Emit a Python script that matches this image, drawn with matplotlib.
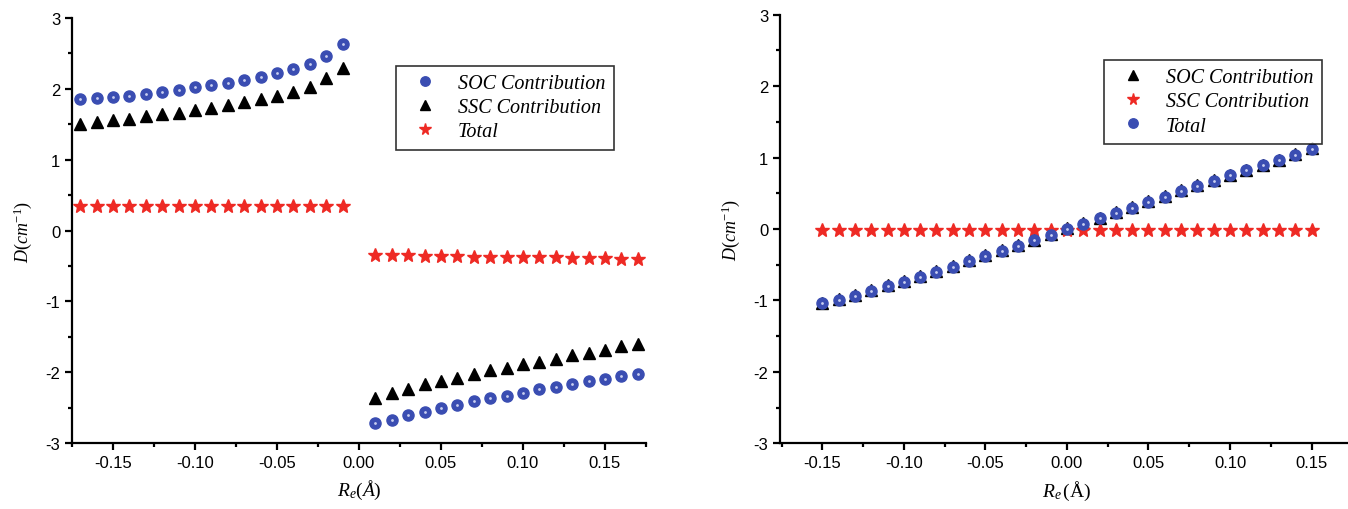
import matplotlib
matplotlib.use('Agg')
import matplotlib.pyplot as plt
from matplotlib.ticker import MultipleLocator
import numpy as np

# left panel: R_e scan, two branches
x_neg = [-0.17, -0.16, -0.15, -0.14, -0.13, -0.12, -0.11, -0.10, -0.09,
         -0.08, -0.07, -0.06, -0.05, -0.04, -0.03, -0.02, -0.01]
x_pos = [0.01, 0.02, 0.03, 0.04, 0.05, 0.06, 0.07, 0.08, 0.09,
         0.10, 0.11, 0.12, 0.13, 0.14, 0.15, 0.16, 0.17]
soc_neg = [1.85, 1.87, 1.88, 1.90, 1.93, 1.95, 1.98, 2.02, 2.05,
           2.08, 2.13, 2.17, 2.22, 2.28, 2.35, 2.46, 2.63]
ssc_neg = [1.50, 1.53, 1.56, 1.58, 1.61, 1.64, 1.66, 1.70, 1.73,
           1.77, 1.81, 1.85, 1.90, 1.96, 2.03, 2.15, 2.29]
tot_neg = [0.34] * 17
soc_pos = [-2.72, -2.67, -2.61, -2.56, -2.51, -2.46, -2.41, -2.37, -2.34,
           -2.29, -2.24, -2.21, -2.16, -2.13, -2.09, -2.06, -2.02]
ssc_pos = [-2.36, -2.30, -2.24, -2.17, -2.13, -2.08, -2.02, -1.97, -1.94,
           -1.89, -1.85, -1.81, -1.76, -1.73, -1.68, -1.63, -1.60]
tot_pos = [-0.34, -0.35, -0.35, -0.36, -0.36, -0.36, -0.37, -0.37, -0.37,
           -0.38, -0.38, -0.38, -0.39, -0.39, -0.39, -0.40, -0.40]

# right panel
x_r = [-0.15, -0.14, -0.13, -0.12, -0.11, -0.10, -0.09, -0.08, -0.07, -0.06,
       -0.05, -0.04, -0.03, -0.02, -0.01, 0.00, 0.01, 0.02, 0.03, 0.04,
       0.05, 0.06, 0.07, 0.08, 0.09, 0.10, 0.11, 0.12, 0.13, 0.14, 0.15]
tot_r = [-1.04, -0.99, -0.94, -0.87, -0.80, -0.74, -0.67, -0.60, -0.53, -0.45,
         -0.38, -0.31, -0.24, -0.16, -0.08, 0.00, 0.07, 0.15, 0.23, 0.30,
         0.38, 0.45, 0.53, 0.60, 0.67, 0.75, 0.82, 0.89, 0.96, 1.04, 1.12]
soc_r = [-1.03, -0.98, -0.93, -0.86, -0.79, -0.73, -0.66, -0.59, -0.52, -0.44,
         -0.37, -0.30, -0.23, -0.15, -0.07, 0.01, 0.08, 0.16, 0.24, 0.31,
         0.39, 0.46, 0.54, 0.61, 0.68, 0.76, 0.83, 0.90, 0.97, 1.05, 1.13]
ssc_r = [-0.01] * 31

BLUE = '#3a4db2'
RED = '#ee2a24'
serif = ['Liberation Serif', 'DejaVu Serif']
plt.rcParams['font.family'] = ['Liberation Sans', 'DejaVu Sans']
plt.rcParams['axes.unicode_minus'] = False
plt.rcParams['mathtext.fontset'] = 'custom'
plt.rcParams['mathtext.it'] = 'Liberation Serif:italic'
plt.rcParams['mathtext.rm'] = 'Liberation Serif'


def ball(ax, x, y, label=None):
    ax.plot(x, y, 'o', color=BLUE, ms=8, mec=BLUE, label=label, zorder=3)
    # little highlight to get the shaded-sphere look
    ax.plot(x, y, 'o', color='#c9cff0', ms=2, mec='none', zorder=4)


def style(ax, xlim, xlabel):
    ax.set_xlim(*xlim)
    ax.set_ylim(-3, 3)
    for s in ['top', 'right']:
        ax.spines[s].set_visible(False)
    for s in ['left', 'bottom']:
        ax.spines[s].set_linewidth(1.6)
    ax.xaxis.set_major_locator(MultipleLocator(0.05))
    ax.xaxis.set_minor_locator(MultipleLocator(0.025))
    ax.yaxis.set_major_locator(MultipleLocator(1))
    ax.yaxis.set_minor_locator(MultipleLocator(0.5))
    ax.tick_params(which='major', direction='out', length=5, width=1.6, labelsize=12)
    ax.tick_params(which='minor', direction='out', length=3, width=1.6)
    ax.xaxis.set_major_formatter(plt.FuncFormatter(lambda v, p: '%.2f' % v))
    ax.set_xlabel(xlabel, fontsize=14, labelpad=6)
    ax.set_ylabel(r'$D(cm^{-1})$', fontsize=13, labelpad=8)


fig = plt.figure(figsize=(13.48, 5.10), dpi=100)
ax1 = fig.add_axes([0.0534, 0.1294, 0.4258, 0.8333])
ax2 = fig.add_axes([0.5786, 0.1288, 0.4258, 0.8405])

ball(ax1, x_neg, soc_neg, 'SOC Contribution')
ax1.plot(x_neg, ssc_neg, '^', color='black', ms=9, label='SSC Contribution', zorder=3)
ax1.plot(x_neg, tot_neg, '*', color=RED, ms=10, mec=RED, label='Total', zorder=3)
ball(ax1, x_pos, soc_pos)
ax1.plot(x_pos, ssc_pos, '^', color='black', ms=9, zorder=3)
ax1.plot(x_pos, tot_pos, '*', color=RED, ms=10, mec=RED, zorder=3)
style(ax1, (-0.175, 0.175), r'$R_e(\AA)$')

ax2.plot(x_r, soc_r, '^', color='black', ms=9, label='SOC Contribution', zorder=2)
ax2.plot(x_r, ssc_r, '*', color=RED, ms=10, mec=RED, label='SSC Contribution', zorder=2)
ball(ax2, x_r, tot_r, 'Total')
style(ax2, (-0.176, 0.176), r'$R_e\,(\mathrm{\AA})$')

for ax, pos in [(ax1, (0.564, 0.887)), (ax2, (0.564, 0.894))]:
    leg = ax.legend(loc='upper left', bbox_to_anchor=pos, borderaxespad=0,
                    frameon=True, fancybox=False, edgecolor='black',
                    prop={'family': serif, 'style': 'italic', 'size': 14.5},
                    handletextpad=0.6, borderpad=0.4, labelspacing=0.25,
                    handlelength=2.1, markerscale=0.85)
    leg.get_frame().set_linewidth(1.2)

fig.savefig('out.png', dpi=100)
